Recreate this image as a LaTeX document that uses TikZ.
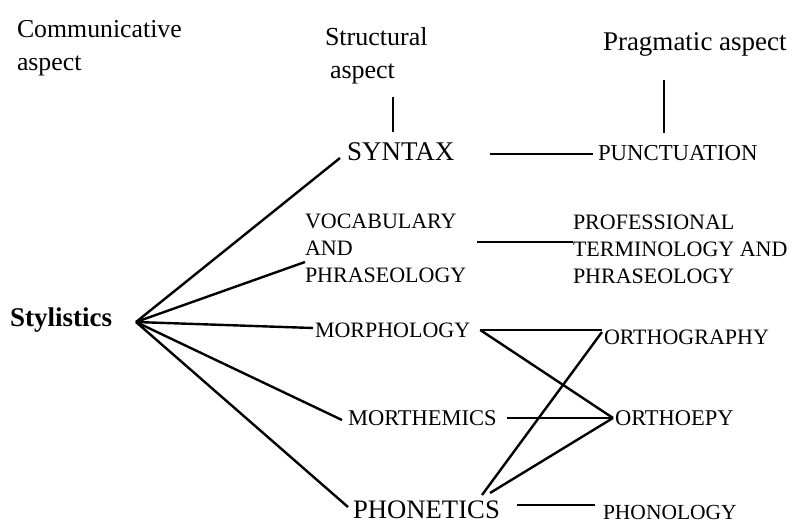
\documentclass[tikz,border=0pt]{standalone}
\usepackage{fontspec}
\setmainfont{Liberation Serif}
\begin{document}
\begin{tikzpicture}[x=1pt,y=-1pt,
  txt/.style={inner sep=0pt,outer sep=0pt,anchor=base west,align=left},
  big/.style={txt,font=\fontsize{26}{33}\selectfont},
  small/.style={txt,font=\fontsize{22}{27}\selectfont},
  conn/.style={line width=2.4pt,black}]
\useasboundingbox (0,0) rectangle (793,523);
% header labels (base anchor = baseline of the last line)
\node[txt,font=\fontsize{25.8}{33}\selectfont] (comm) at (17,70) {Communicative\\aspect};
\node[big] (struct) at (325,78) {Structural\\\hspace*{5pt}aspect};
\node[txt,font=\fontsize{27}{33}\selectfont] (prag) at (603,50) {Pragmatic aspect};
% structural column
\node[txt,font=\fontsize{27}{33}\selectfont] (syn) at (347,160) {SYNTAX};
\node[small] (vocab) at (305,282) {VOCABULARY\\AND\\PHRASEOLOGY};
\node[small] (morph) at (315,337) {MORPHOLOGY};
\node[txt,font=\fontsize{22.5}{27}\selectfont] (mort) at (348,425) {MORTHEMICS};
\node[txt,font=\fontsize{26.7}{33}\selectfont] (phon) at (353,518) {PHONETICS};
% pragmatic column
\node[txt,font=\fontsize{22.8}{27}\selectfont] (punct) at (598,160) {PUNCTUATION};
\node[small] (prof) at (573,283) {PROFESSIONAL\\TERMINOLOGY AND\\PHRASEOLOGY};
\node[small] (ortg) at (604,344) {ORTHOGRAPHY};
\node[txt,font=\fontsize{22.5}{27}\selectfont] (ortp) at (615,425) {ORTHOEPY};
\node[txt,font=\fontsize{21.5}{27}\selectfont] (phnl) at (603,519) {PHONOLOGY};
% root
\node[txt,font=\fontsize{27}{33}\selectfont\bfseries] (sty) at (10,326) {Stylistics};
\coordinate (hub) at ([shift={(24,-4)}]sty.base east);
% connectors
\draw[conn] ([shift={(68,13)}]struct.south west) -- ([shift={(46,-28)}]syn.base west);
\draw[conn] ([shift={(61,30)}]prag.base west) -- ([shift={(66,-27)}]punct.base west);
\draw[conn] ([shift={(35.5,-6)}]syn.base east) -- ([shift={(-5,-6)}]punct.base west);
\draw[conn] ([shift={(172,-40)}]vocab.base west) -- ([shift={(0,-41)}]prof.base west);
\draw[conn] (hub) -- ([shift={(-7,-2)}]syn.base west);
\draw[conn] (hub) -- ([shift={(0,-20)}]vocab.base west);
\draw[conn] (hub) -- ([shift={(-2,-9)}]morph.base west);
\draw[conn] (hub) -- ([shift={(-6,-5)}]mort.base west);
\draw[conn] (hub) -- ([shift={(-5,-11)}]phon.base west);
\draw[conn] ([shift={(10,-7)}]morph.base east) -- ([shift={(-2,-14)}]ortg.base west);
\draw[conn] ([shift={(10,-7)}]morph.base east) -- ([shift={(-2,-7)}]ortp.base west);
\draw[conn] ([shift={(10,-7)}]mort.base east) -- ([shift={(-2,-7)}]ortp.base west);
\draw[conn] ([shift={(129,-23)}]phon.base west) -- ([shift={(-2,-12)}]ortg.base west);
\draw[conn] ([shift={(137,-25)}]phon.base west) -- ([shift={(-2,-7)}]ortp.base west);
\draw[conn] ([shift={(17,-13)}]phon.base east) -- ([shift={(-8,-14)}]phnl.base west);
\end{tikzpicture}
\end{document}
